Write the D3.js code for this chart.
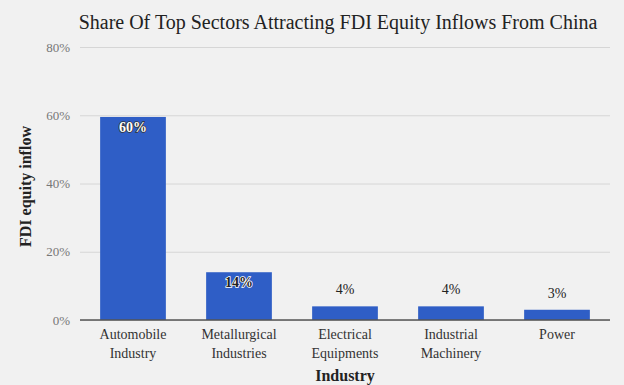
<!DOCTYPE html>
<html>
<head>
<meta charset="utf-8">
<script src="https://cdn.jsdelivr.net/npm/d3@7"></script>
<style>
  body { margin: 0; background: #f1f1f1; }
  text { font-family: 'Liberation Serif', 'Times New Roman', serif; }
</style>
</head>
<body>
<div id="chart"></div>
<script>
const categories = [["Automobile", "Industry"], ["Metallurgical", "Industries"], ["Electrical", "Equipments"], ["Industrial", "Machinery"], ["Power"]];
const values = [59.5, 14, 4, 4, 3];
const labels = ["60%", "14%", "4%", "4%", "3%"];
const yTicks = [0, 20, 40, 60, 80];

const serif = "'Liberation Serif', 'Times New Roman', serif";
const width = 624, height = 385;
const margin = { top: 47, right: 14, bottom: 65, left: 80 };
const w = width - margin.left - margin.right;
const h = height - margin.top - margin.bottom;

const svg = d3.select("#chart").append("svg")
    .attr("width", width)
    .attr("height", height)
    .style("display", "block");

svg.append("rect").attr("width", width).attr("height", height).attr("fill", "#f1f1f1");

svg.append("text")
    .attr("x", 338).attr("y", 29)
    .attr("text-anchor", "middle")
    .attr("font-family", serif)
    .attr("font-size", 20)
    .attr("fill", "#222")
    .text("Share Of Top Sectors Attracting FDI Equity Inflows From China");

const g = svg.append("g").attr("transform", "translate(" + margin.left + "," + margin.top + ")");

const x = d3.scaleBand()
    .domain(d3.range(values.length))
    .range([0, w])
    .paddingInner(0.38)
    .paddingOuter(0.19);

const y = d3.scaleLinear().domain([0, 80]).range([h, 0]);

// gridlines + y labels
g.append("g")
    .call(d3.axisLeft(y).tickValues(yTicks).tickSize(-w).tickFormat(d => d + "%").tickPadding(10))
    .attr("font-family", serif)
    .call(a => a.select(".domain").remove())
    .call(a => a.selectAll(".tick line").attr("stroke", "#d6d6d6"))
    .call(a => a.selectAll(".tick text").attr("fill", "#777").attr("font-size", 13));

g.selectAll(".bar")
    .data(values)
    .enter().append("rect")
    .attr("x", (d, i) => x(i))
    .attr("y", d => y(d))
    .attr("width", x.bandwidth())
    .attr("height", d => h - y(d))
    .attr("fill", "#2f5ec6");

// baseline
g.append("line")
    .attr("x1", 0).attr("x2", w)
    .attr("y1", h).attr("y2", h)
    .attr("stroke", "#555").attr("stroke-width", 1.3);

// value labels
g.selectAll(".vlab")
    .data(values)
    .enter().append("text")
    .attr("x", (d, i) => x(i) + x.bandwidth() / 2)
    .attr("y", d => d > 10 ? y(d) + 15 : y(d) - 12)
    .attr("text-anchor", "middle")
    .attr("font-family", serif)
    .attr("font-size", 14)
    .attr("font-weight", d => d > 10 ? "bold" : "normal")
    .attr("fill", d => d > 20 ? "#fff" : "#222")
    .attr("stroke", d => d > 20 ? "#333" : (d > 10 ? "#fff" : "none"))
    .attr("stroke-width", 1.5)
    .attr("paint-order", "stroke")
    .text((d, i) => labels[i]);

// category labels
const cat = g.selectAll(".cat")
    .data(categories)
    .enter().append("text")
    .attr("text-anchor", "middle")
    .attr("font-family", serif)
    .attr("font-size", 14)
    .attr("fill", "#333");
cat.selectAll("tspan")
    .data((d, i) => d.map(t => ({ t, i })))
    .enter().append("tspan")
    .attr("x", d => x(d.i) + x.bandwidth() / 2)
    .attr("y", (d, j) => h + 19 + j * 19)
    .text(d => d.t);

svg.append("text")
    .attr("x", 345).attr("y", 381)
    .attr("text-anchor", "middle")
    .attr("font-family", serif)
    .attr("font-size", 16)
    .attr("font-weight", "bold")
    .attr("fill", "#222")
    .text("Industry");

svg.append("text")
    .attr("transform", "translate(31," + (margin.top + h / 2 + 3) + ") rotate(-90)")
    .attr("text-anchor", "middle")
    .attr("font-family", serif)
    .attr("font-size", 16)
    .attr("font-weight", "bold")
    .attr("fill", "#222")
    .text("FDI equity inflow");
</script>
</body>
</html>
